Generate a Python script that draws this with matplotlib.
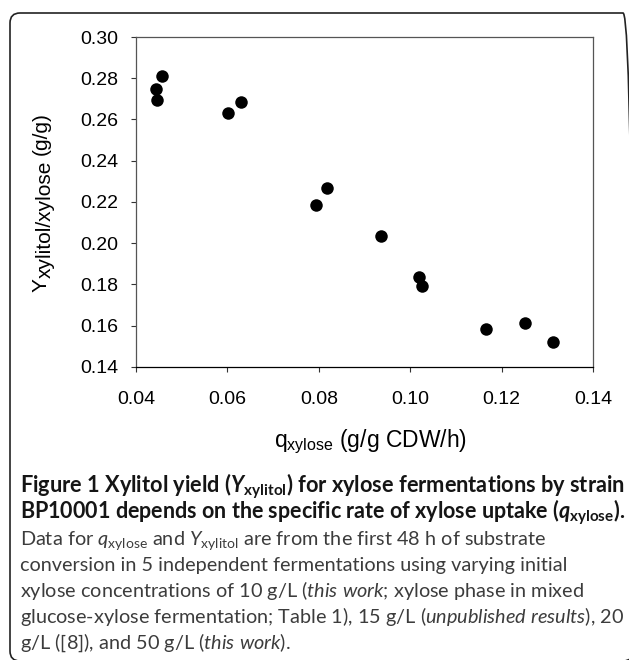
import matplotlib
matplotlib.use('Agg')
import matplotlib.pyplot as plt
from matplotlib.patches import FancyBboxPatch
from matplotlib.transforms import IdentityTransform
from matplotlib.ticker import FormatStrFormatter

# values
q_xylose = [0.0456, 0.0443, 0.0447, 0.0601, 0.0629, 0.0794, 0.0819, 0.0936,
            0.1020, 0.1026, 0.1165, 0.1251, 0.1313]
y_xylitol = [0.2812, 0.2747, 0.2694, 0.2631, 0.2686, 0.2185, 0.2269, 0.2035,
             0.1837, 0.1793, 0.1584, 0.1611, 0.1522]
xticks = [0.04, 0.06, 0.08, 0.10, 0.12, 0.14]
yticks = [0.14, 0.16, 0.18, 0.20, 0.22, 0.24, 0.26, 0.28, 0.30]

bold_lines = [
    r'Figure 1 Xylitol yield ($\mathbfit{Y}_{\mathbf{xylitol}}$) for xylose fermentations by strain',
    r'BP10001 depends on the specific rate of xylose uptake ($\mathbfit{q}_{\mathbf{xylose}}$).',
]
plain_lines = [
    r'Data for $\mathit{q}_{\mathrm{xylose}}$ and $\mathit{Y}_{\mathrm{xylitol}}$ are from the first 48 h of substrate',
    'conversion in 5 independent fermentations using varying initial',
    r'xylose concentrations of 10 g/L ($\mathit{this\ work}$; xylose phase in mixed',
    r'glucose-xylose fermentation; Table 1), 15 g/L ($\mathit{unpublished\ results}$), 20',
    r'g/L ([8]), and 50 g/L ($\mathit{this\ work}$).',
]

plt.rcParams['font.family'] = 'Liberation Sans'
plt.rcParams['mathtext.fontset'] = 'custom'
plt.rcParams['mathtext.rm'] = 'Lato'
plt.rcParams['mathtext.it'] = 'Lato:italic'
plt.rcParams['mathtext.bf'] = 'Lato:bold'
plt.rcParams['mathtext.bfit'] = 'Lato:italic:bold'

W, H = 629, 660
fig = plt.figure(figsize=(W / 100, H / 100), dpi=100)
px = IdentityTransform()

# rounded frame around figure + caption (right and bottom edges run off the image)
frame = FancyBboxPatch((10, -1), 623, H - 13 + 1, boxstyle='round,pad=0,rounding_size=10',
                       transform=px, fill=False, edgecolor='#222222', linewidth=1.2)
fig.add_artist(frame)

ax = fig.add_axes([136 / W, 1 - 367 / H, (593 - 136) / W, (367 - 37) / H])
ax.plot(q_xylose, y_xylitol, 'o', color='black', ms=9, mew=0)
ax.set_xlim(0.04, 0.14)
ax.set_ylim(0.14, 0.30)
ax.set_xticks(xticks)
ax.set_yticks(yticks)
ax.xaxis.set_major_formatter(FormatStrFormatter('%.2f'))
ax.yaxis.set_major_formatter(FormatStrFormatter('%.2f'))
ax.tick_params(direction='out', length=3.5, width=0.8, labelsize=14, color='#333333')
ax.tick_params(axis='y', pad=9)
ax.tick_params(axis='x', pad=14)
for s in ax.spines.values():
    s.set_color('#555555')
    s.set_linewidth(0.9)
ax.spines['bottom'].set_color('black')

# x label
fig.text(370 / W, 1 - 447 / H, r'$\mathregular{q_{xylose}}$ (g/g CDW/h)',
         ha='center', va='baseline', fontsize=16.5)

# y label, subscript kept at full size like the original
r = fig.canvas.get_renderer()
parts = []
for s, dx in [('Y', 0), ('xylitol/xylose', 4), ('(g/g)', 0)]:
    t = fig.text(0, 0, s, rotation=90, rotation_mode='anchor', ha='left',
                 va='baseline', fontsize=15, transform=px)
    parts.append((t, dx))
gap = 5
widths = [t.get_window_extent(r).height for t, dx in parts]
y = (H - 202) - (sum(widths) + gap) / 2
for i, ((t, dx), w) in enumerate(zip(parts, widths)):
    t.set_position((47 + dx, y))
    y += w + (gap if i == 1 else 0)

# caption
baselines = [493, 519, 545, 571, 597, 623, 649]
cap = []
for i, line in enumerate(bold_lines + plain_lines):
    bold = i < len(bold_lines)
    t = fig.text(20, H - baselines[i], line, transform=px, ha='left', va='baseline',
                 family='Lato', fontsize=12, fontweight='bold' if bold else 'normal',
                 color='#151515' if bold else '#3c3c3c')
    cap.append(t)

# fit font size: each bold line to its own width, plain lines to the longest one
bold_w = [605, 606]
for t, target in zip(cap[:2], bold_w):
    t.set_fontsize(12 * target / t.get_window_extent(r).width)
wp = cap[5].get_window_extent(r).width
for t in cap[2:]:
    t.set_fontsize(12 * 602 / wp)

fig.savefig('out.png', dpi=100)
